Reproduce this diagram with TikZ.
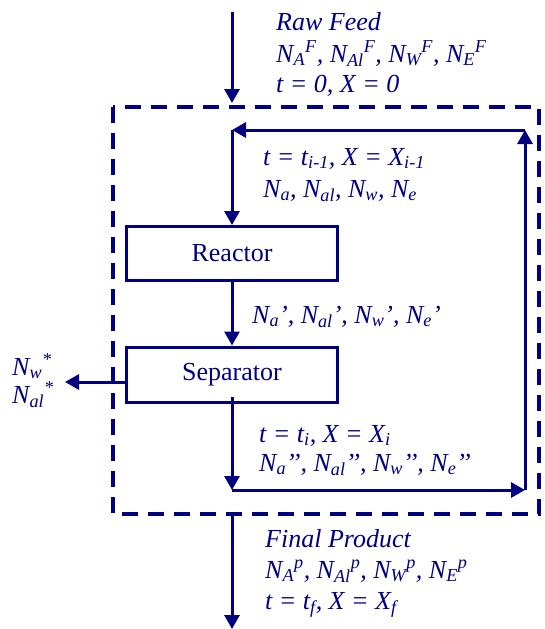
\documentclass[tikz,border=0pt]{standalone}
\usepackage{fontspec}
\setmainfont{Liberation Serif}
\usetikzlibrary{arrows.meta}
\definecolor{navy}{RGB}{0,0,128}
\newcommand{\Nss}[2]{N\textsubscript{#1}\textsuperscript{#2}}
\newcommand{\Ns}[1]{N\textsubscript{#1}}
\begin{document}
\begin{tikzpicture}[x=1pt,y=-1pt,
  arr/.style={draw=navy,line width=3pt,-{Triangle[length=14pt,width=15pt]}},
  box/.style={draw=navy,line width=3pt,minimum width=211pt,minimum height=54pt,inner sep=0pt,font=\fontsize{26}{31}\selectfont,text=navy},
  lbl/.style={anchor=base west,inner sep=0pt,font=\fontsize{26}{31}\selectfont\itshape,text=navy},
  bound/.style={draw=navy,line width=4pt,dash pattern=on 16pt off 10pt}]
\useasboundingbox (0,0) rectangle (544,629);
% system boundary
\draw[bound] (113,107) rectangle (539,514);
% units
\node[box] (reactor) at (232,253.5) {Reactor};
\node[box,minimum height=55pt] (sep) at (232,374.5) {Separator};
% coordinates
\coordinate (feedtop) at (232,12);
\coordinate (feedend) at (232,103);
\coordinate (c1) at (232,490);
\coordinate (c2) at (525,490);
\coordinate (c3) at (525,130);
\coordinate (c4) at (232,130);
\coordinate (wout) at (65,382);
\coordinate (prodtop) at (232,514);
\coordinate (prodend) at (232,629);
% connectors
\draw[arr] (feedtop) -- (feedend);
\draw[arr] (c4) -- (reactor.north);
\draw[arr] (reactor.south) -- (sep.north);
\draw[arr] ([yshift=7pt]sep.south) -- (c1);
\draw[arr] (c1) -- (c2);
\draw[arr] (c2) -- (c3);
\draw[arr] (c3) -- (c4);
\draw[arr] (sep.west |- wout) -- (wout);
\draw[arr] (prodtop) -- (prodend);
% labels
\node[lbl] (raw) at (276,30) {Raw Feed};
\node[lbl] (nf) at (276,62) {\Nss{A}{F}, \Nss{Al}{F}, \Nss{W}{F}, \Nss{E}{F}};
\node[lbl] (t0) at (276,92) {t = 0, X = 0};
\node[lbl] (ti1) at (263,165) {t = t\textsubscript{i-1}, X = X\textsubscript{i-1}};
\node[lbl] (n1) at (263,197) {\Ns{a}, \Ns{al}, \Ns{w}, \Ns{e}};
\node[lbl] (np) at (252,323) {\Ns{a}’, \Ns{al}’, \Ns{w}’, \Ns{e}’};
\node[lbl] (ti) at (259,442) {t = t\textsubscript{i}, X = X\textsubscript{i}};
\node[lbl] (npp) at (259,471) {\Ns{a}’’, \Ns{al}’’, \Ns{w}’’, \Ns{e}’’};
\node[lbl] (nws) at (12,375) {\Nss{w}{*}};
\node[lbl] (nals) at (12,403) {\Nss{al}{*}};
\node[lbl] (fp) at (265,547) {Final Product};
\node[lbl] (nfp) at (265,578) {\Nss{A}{p}, \Nss{Al}{p}, \Nss{W}{p}, \Nss{E}{p}};
\node[lbl] (tf) at (265,609) {t = t\textsubscript{f}, X = X\textsubscript{f}};
\end{tikzpicture}
\end{document}
